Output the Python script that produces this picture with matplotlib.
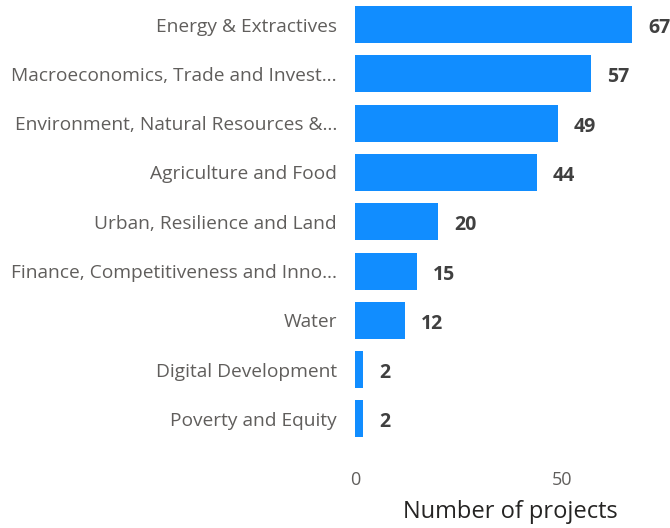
import matplotlib
matplotlib.use('Agg')
from matplotlib import pyplot as plt

categories = ['Energy & Extractives',
              'Macroeconomics, Trade and Invest…',
              'Environment, Natural Resources &…',
              'Agriculture and Food',
              'Urban, Resilience and Land',
              'Finance, Competitiveness and Inno…',
              'Water',
              'Digital Development',
              'Poverty and Equity']
projects = [67, 57, 49, 44, 20, 15, 12, 2, 2]
xticks = [0, 50]

bar_color = '#118DFF'

fig = plt.figure(figsize=(6.7, 5.28), dpi=100)
ax = fig.add_axes([0.53, 0.16, 0.463, 0.84])

y = list(range(len(categories)))
ax.barh(y, projects, height=0.75, color=bar_color)
ax.set_ylim(len(categories) - 0.5, -0.5)
ax.set_xlim(0, 75)

# value labels next to the bar ends
for yi, v in zip(y, projects):
    ax.annotate(str(v), (v, yi), xytext=(11.5, -2.5), textcoords='offset points',
                ha='left', va='center', fontsize=14, fontweight='bold',
                color='#404040', family='Open Sans', annotation_clip=False)

ax.set_yticks(y)
ax.set_yticklabels(categories, fontsize=13.8, color='#605E5C', family='Open Sans')
ax.set_xticks(xticks)
ax.set_xticklabels([str(t) for t in xticks], fontsize=13, color='#605E5C', family='Open Sans')
ax.tick_params(axis='y', length=0, pad=13)
ax.tick_params(axis='x', length=0, pad=20)
ax.set_xlabel('Number of projects', fontsize=17, color='#252423', family='Open Sans', labelpad=8)

for s in ax.spines.values():
    s.set_visible(False)

fig.savefig('out.png', dpi=100)
